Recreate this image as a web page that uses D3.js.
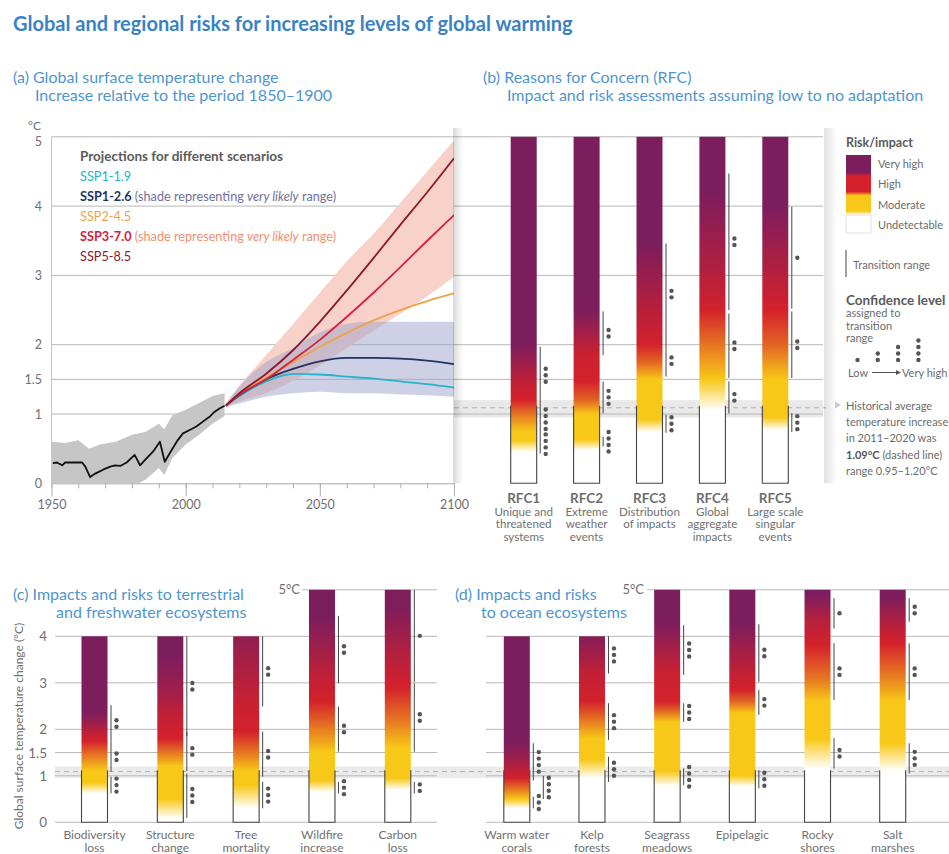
<!DOCTYPE html>
<html><head><meta charset="utf-8">
<script src="https://cdn.jsdelivr.net/npm/d3@7"></script>
<style>
body{margin:0;background:#fff;}
svg{display:block;font-family:Lato,"Open Sans",sans-serif;}
</style></head><body>
<svg id="chart" width="949" height="854"></svg>
<script>
// ---------------- DATA ----------------
const histYears = [1950.5,1952,1954,1955,1961.4,1962.6,1964.4,1966.3,1969.4,1971.9,1973.7,1975.6,1978,1981,1983,1985.4,1987.9,1990.4,1992.2,1994,1997,1999,2001.5,2004,2006.4,2008.9,2010.7,2012.6,2014.5];
const histMean  = [0.29,0.30,0.26,0.30,0.30,0.24,0.09,0.14,0.20,0.24,0.26,0.25,0.30,0.41,0.26,0.36,0.46,0.60,0.31,0.43,0.62,0.72,0.77,0.82,0.89,0.96,1.03,1.08,1.12];
const bandYears = [1950,1955,1960,1964,1968,1974,1980,1985,1990,1992,1995,2000,2005,2010,2014.5];
const bandHi    = [0.60,0.58,0.62,0.50,0.56,0.60,0.70,0.74,0.86,0.78,0.98,1.06,1.16,1.26,1.30];
const bandLo    = [-0.1,-0.1,-0.1,-0.2,-0.15,-0.1,-0.05,0.05,0.22,0.12,0.36,0.56,0.70,0.86,0.97];

const projYears = [2015,2020,2030,2040,2050,2060,2070,2080,2090,2100];
const ssp119 = [1.12,1.26,1.47,1.58,1.57,1.54,1.51,1.47,1.43,1.38];
const ssp126 = [1.12,1.27,1.50,1.65,1.76,1.81,1.81,1.80,1.77,1.72];
const ssp245 = [1.12,1.28,1.53,1.75,1.97,2.17,2.35,2.50,2.63,2.74];
const ssp370 = [1.12,1.28,1.50,1.78,2.07,2.40,2.75,3.12,3.50,3.87];
const ssp585 = [1.12,1.30,1.58,1.92,2.33,2.78,3.25,3.73,4.20,4.69];
const ssp126Lo = [1.10,1.15,1.25,1.30,1.32,1.30,1.30,1.28,1.27,1.25];
const ssp126Hi = [1.15,1.40,1.75,1.95,2.18,2.30,2.33,2.33,2.33,2.33];
const ssp370Lo = [1.10,1.18,1.30,1.48,1.70,1.95,2.20,2.45,2.70,2.98];
const ssp370Hi = [1.15,1.40,1.85,2.30,2.75,3.20,3.60,4.05,4.50,4.95];

const scenarioNames = ["SSP1-1.9","SSP1-2.6","SSP2-4.5","SSP3-7.0","SSP5-8.5"];
const scenarioColors = ["#27b3cb","#1f3462","#eca449","#d4223d","#8a1b2d"];

const yearLabels = [1950,2000,2050,2100];
const yearTicks = [1950,1960,1970,1980,1990,2000,2010,2020,2030,2040,2050,2060,2070,2080,2090,2100];
const tempTicksA = [0,1,1.5,2,3,4,5];
const tempTicksC = [0,1,1.5,2,3,4];
const histRange = [0.95,1.09,1.20];

const riskLevels = ["Very high","High","Moderate","Undetectable"];
const riskColors = ["#ffffff","#f8c818","#d4212b","#7c1d5e"];

// Reasons for concern: stops = [temperature, risk level 0..3]; trans = [lo, hi, confidence dots, column]
const rfcNames = ["RFC1","RFC2","RFC3","RFC4","RFC5"];
const rfcDesc = [["Unique and","threatened","systems"],["Extreme","weather","events"],["Distribution","of impacts"],["Global","aggregate","impacts"],["Large scale","singular","events"]];
const rfcTop = [5,5,5,5,5];
const rfcStops = [
  [[0.45,0],[0.62,1],[0.75,1],[1.0,1.5],[1.2,2],[1.45,2.2],[2.0,3]],
  [[0.48,0],[0.63,1],[1.0,1],[1.2,1.6],[1.47,2],[1.85,2.1],[2.5,3]],
  [[0.74,0],[0.92,1],[1.5,1],[1.75,1.6],[2.0,2],[2.6,2.4],[3.45,3]],
  [[1.05,0],[1.5,1],[2.0,1.5],[2.5,2],[3.0,2.35],[4.2,3]],
  [[0.77,0],[0.95,1],[1.5,1],[2.0,1.6],[2.5,2],[4.0,3]]
];
const rfcTrans = [
  [[0.43,0.70,4],[0.70,1.15,4],[1.15,1.97,3]],
  [[0.53,0.67,4],[1.01,1.47,3],[1.85,2.48,2]],
  [[0.73,0.99,3],[1.54,2.0,2],[2.0,3.46,2]],
  [[1.01,1.47,2],[1.52,2.45,2],[2.5,4.47,2]],
  [[0.74,1.01,3],[1.52,2.48,2],[2.52,3.99,1]]
];

const terrNames = [["Biodiversity","loss"],["Structure","change"],["Tree","mortality"],["Wildfire","increase"],["Carbon","loss"]];
const terrTop = [4,4,4,5,5];
const terrStops = [
  [[0.62,0],[0.85,1],[1.1,1],[1.45,1.5],[1.75,2],[1.95,2.3],[2.35,3]],
  [[0.08,0],[0.5,1],[1.2,1],[1.5,1.5],[1.8,2],[2.2,2.15],[3.0,2.7],[3.6,3]],
  [[0.3,0],[0.8,1],[1.1,1],[1.5,1.5],[1.95,2],[2.6,2.15],[4.0,2.75]],
  [[0.65,0],[0.9,1],[1.5,1],[2.05,1.5],[2.6,2],[3.1,2.2],[4.4,3]],
  [[0.7,0],[0.95,1],[1.6,1],[2.2,1.5],[2.9,2],[3.6,2.35],[4.6,2.95]]
];
const terrTrans = [
  [[0.62,0.98,3],[1.09,1.73,2],[1.73,2.52,2]],
  [[0.1,1.05,3],[1.1,1.95,2],[1.85,4.0,2]],
  [[0.3,0.87,3],[0.98,1.95,2],[2.49,4.0,2]],
  [[0.62,0.87,3],[1.52,2.49,2],[2.99,4.44,2]],
  [[0.62,0.87,2],[1.52,2.99,2],[3.02,5.0,1]]
];

const oceanNames = [["Warm water","corals"],["Kelp","forests"],["Seagrass","meadows"],["Epipelagic"],["Rocky","shores"],["Salt","marshes"]];
const oceanTop = [4,4,5,5,5,5];
const oceanStops = [
  [[0.3,0],[0.5,1],[0.72,1.5],[0.95,2],[1.2,2.4],[1.7,3]],
  [[0.95,0],[1.35,1],[1.8,1],[2.2,1.5],[2.6,2],[3.2,2.2],[4.0,2.9]],
  [[0.78,0],[1.1,1],[2.15,1],[2.4,1.6],[2.6,2],[3.2,2.1],[4.3,3]],
  [[0.77,0],[1.0,1],[2.35,1],[2.6,1.6],[2.85,2],[3.2,2.2],[4.3,3]],
  [[1.15,0],[1.8,1],[2.6,1],[3.1,1.5],[3.8,2],[4.3,2.3],[4.9,3]],
  [[1.1,0],[1.7,1],[2.6,1],[3.2,1.5],[3.85,2],[4.2,2.3],[4.85,3]]
];
const oceanTrans = [
  [[0.3,0.55,3,0],[0.5,1.0,4,1],[0.9,1.7,4,0]],
  [[0.87,1.41,3],[1.77,2.56,3],[3.2,4.0,3]],
  [[0.8,1.16,4],[2.16,2.56,3],[3.17,4.24,3]],
  [[0.73,1.12,3],[2.31,2.85,2],[3.02,4.26,2]],
  [[1.16,1.81,2],[2.63,3.85,2],[4.17,4.82,1]],
  [[1.05,1.7,3],[2.63,3.85,2],[4.31,4.82,2]]
];
const confidenceLevels = [1,2,3,4];

// ---------------- DRAW ----------------
const svg = d3.select("#chart");
const defs = svg.append("defs");
const riskColor = d3.scaleLinear().domain([0,1,2,3]).range(riskColors);
const BLUE = "#3a82c4", LBLUE = "#4f95cf", GRAY = "#6b6b6b";

function txt(p, x, y, s, o = {}) {
  const t = p.append("text").attr("x", x).attr("y", y).text(s)
    .attr("font-size", o.size || 12).attr("fill", o.fill || GRAY)
    .attr("font-weight", o.weight || 400).attr("text-anchor", o.anchor || "start");
  if (o.style) t.attr("font-style", o.style);
  return t;
}

// Titles
txt(svg, 13, 31, "Global and regional risks for increasing levels of global warming", {size:20, weight:700, fill:BLUE});
txt(svg, 13, 83, "(a) Global surface temperature change", {size:16, fill:LBLUE});
txt(svg, 35, 101, "Increase relative to the period 1850–1900", {size:16, fill:LBLUE});
txt(svg, 483, 83, "(b) Reasons for Concern (RFC)", {size:16, fill:LBLUE});
txt(svg, 507, 101, "Impact and risk assessments assuming low to no adaptation", {size:16, fill:LBLUE});
txt(svg, 13, 600, "(c) Impacts and risks to terrestrial", {size:16, fill:LBLUE});
txt(svg, 56, 618, "and freshwater ecosystems", {size:16, fill:LBLUE});
txt(svg, 455, 600, "(d) Impacts and risks", {size:16, fill:LBLUE});
txt(svg, 481, 618, "to ocean ecosystems", {size:16, fill:LBLUE});

// ---- Panel A & B shared scales
const xA = d3.scaleLinear().domain([1950,2100]).range([51.5,454]);
const yA = d3.scaleLinear().domain([0,5]).range([483.3,136.8]);
const xBend = 823;

// historical band across panel b
svg.append("rect").attr("x", xA(2100)).attr("width", xBend - xA(2100))
  .attr("y", yA(histRange[2])).attr("height", yA(histRange[0]) - yA(histRange[2])).attr("fill", "#e9e9e9");
svg.append("line").attr("x1", xA(2100)).attr("x2", xBend+3).attr("y1", yA(histRange[1])).attr("y2", yA(histRange[1]))
  .attr("stroke", "#b0b0b0").attr("stroke-dasharray", "5,4");

// gridlines
svg.append("g").selectAll("line").data(tempTicksA.filter(d => d > 0)).join("line")
  .attr("x1", xA(1950)).attr("x2", xBend).attr("y1", d => yA(d)).attr("y2", d => yA(d))
  .attr("stroke", "#b8b8b8").attr("stroke-width", 1);
svg.append("line").attr("x1", xA(1950)).attr("x2", xA(1950)).attr("y1", yA(0)).attr("y2", yA(5)).attr("stroke", "#c4c4c4");

// y tick labels panel a
svg.append("g").selectAll("text").data(tempTicksA).join("text")
  .attr("x", 42).attr("y", d => yA(d) + (d === 5 ? 9.5 : 4.5)).attr("text-anchor", "end")
  .attr("font-size", 12.5).attr("fill", "#707070").text(d => d === 1.5 ? "1.5" : d);
txt(svg, 28, 130, "°C", {size:12, fill:"#707070"});

// x axis panel a
const axMinor = d3.axisBottom(xA).tickValues(yearTicks).tickSize(5).tickSizeOuter(0).tickFormat("");
const gx1 = svg.append("g").attr("transform", `translate(0,${yA(0)})`).call(axMinor);
gx1.select(".domain").attr("stroke", "#a8a8a8");
gx1.selectAll("line").attr("stroke", "#b0b0b0");
const axMajor = d3.axisBottom(xA).tickValues(yearLabels).tickSize(13).tickSizeOuter(0).tickPadding(4).tickFormat(d3.format("d"));
const gx2 = svg.append("g").attr("transform", `translate(0,${yA(0)})`).call(axMajor);
gx2.select(".domain").remove();
gx2.selectAll("line").attr("stroke", "#b0b0b0");
gx2.selectAll("text").attr("font-size", 12.5).attr("fill", "#707070");
gx2.attr("font-family", null).attr("font-size", null);

// clip for panel a
defs.append("clipPath").attr("id", "clipA").append("rect")
  .attr("x", xA(1950)).attr("y", yA(5)).attr("width", xA(2100) - xA(1950)).attr("height", yA(0) - yA(5));
const gA = svg.append("g").attr("clip-path", "url(#clipA)");

const bandArea = (ys, lo, hi) => d3.area().x((d, i) => xA(ys[i])).y0((d, i) => yA(lo[i])).y1((d, i) => yA(hi[i])).curve(d3.curveMonotoneX)(ys);
gA.append("path").attr("d", d3.area().x((d,i)=>xA(bandYears[i])).y0((d,i)=>yA(bandLo[i])).y1((d,i)=>yA(bandHi[i]))(bandYears)).attr("fill", "#c6c6c6");
gA.append("path").attr("d", bandArea(projYears, ssp370Lo, ssp370Hi)).attr("fill", "#f8d1c8");
gA.append("path").attr("d", bandArea(projYears, ssp126Lo, ssp126Hi)).attr("fill", "#9ea3cc").attr("fill-opacity", 0.5);
gA.append("path").attr("d", d3.line().x((d,i)=>xA(histYears[i])).y(d=>yA(d))(histMean))
  .attr("fill", "none").attr("stroke", "#111").attr("stroke-width", 1.8).attr("stroke-linejoin", "round");
[ssp119, ssp126, ssp245, ssp370, ssp585].forEach((s, k) => {
  gA.append("path").attr("d", d3.line().x((d,i)=>xA(projYears[i])).y(d=>yA(d)).curve(d3.curveMonotoneX)(s))
    .attr("fill", "none").attr("stroke", scenarioColors[k]).attr("stroke-width", 1.8);
});

// legend panel a
const legA = svg.append("g");
txt(legA, 80, 161, "Projections for different scenarios", {size:13.5, weight:700, fill:"#5a5a5a"});
const shadeTxt = ["", "#70719c", "", "#ef8f72", ""];
scenarioNames.forEach((nm, k) => {
  const t = legA.append("text").attr("x", 80).attr("y", 181 + k * 20).attr("font-size", 12.7);
  t.append("tspan").attr("fill", scenarioColors[k]).attr("font-weight", k===1||k===3 ? 700 : 400).text(nm);
  if (shadeTxt[k]) {
    t.append("tspan").attr("fill", shadeTxt[k]).text(" (shade representing ");
    t.append("tspan").attr("fill", shadeTxt[k]).attr("font-style", "italic").text("very likely");
    t.append("tspan").attr("fill", shadeTxt[k]).text(" range)");
  }
});

// panel b card shadows
const sh1 = defs.append("linearGradient").attr("id", "shL");
sh1.append("stop").attr("offset", 0).attr("stop-color", "#000").attr("stop-opacity", 0.15);
sh1.append("stop").attr("offset", 1).attr("stop-color", "#000").attr("stop-opacity", 0);
const sh2 = defs.append("linearGradient").attr("id", "shR");
sh2.append("stop").attr("offset", 0).attr("stop-color", "#000").attr("stop-opacity", 0.12);
sh2.append("stop").attr("offset", 1).attr("stop-color", "#000").attr("stop-opacity", 0);
svg.append("rect").attr("x", xA(2100) - 1).attr("y", 128).attr("width", 10).attr("height", yA(0) - 128).attr("fill", "url(#shL)");
svg.append("rect").attr("x", xBend + 1).attr("y", 128).attr("width", 13).attr("height", yA(0) - 128).attr("fill", "url(#shR)");

// ---- bars
function drawBars(o) {
  const g = svg.append("g");
  o.names.forEach((nm, i) => {
    const cx = o.x(i), w = 26, x0 = cx - w / 2, x1 = cx + w / 2, top = o.tops[i];
    const gid = o.id + i;
    const lg = defs.append("linearGradient").attr("id", gid).attr("gradientUnits", "userSpaceOnUse")
      .attr("x1", 0).attr("x2", 0).attr("y1", o.y(0)).attr("y2", o.y(top));
    const st = [[0, 0], ...o.stops[i], [top, o.stops[i][o.stops[i].length - 1][1]]];
    lg.selectAll("stop").data(st).join("stop").attr("offset", d => Math.min(1, d[0] / top)).attr("stop-color", d => riskColor(d[1]));
    g.append("rect").attr("x", x0).attr("y", o.y(top)).attr("width", w).attr("height", o.y(0) - o.y(top)).attr("fill", `url(#${gid})`);
    g.append("path").attr("d", `M${x0},${o.y(1.12)}V${o.y(0)}H${x1}V${o.y(1.12)}`)
      .attr("fill", "none").attr("stroke", "#444").attr("stroke-width", 1.1);
    o.trans[i].forEach(t => {
      const [lo, hi, n, col = 0] = t;
      const lx = x1 + 3.5 + col * 10;
      g.append("line").attr("x1", lx).attr("x2", lx).attr("y1", o.y(lo)).attr("y2", o.y(hi)).attr("stroke", "#444").attr("stroke-width", 1);
      const cy = o.y((lo + hi) / 2);
      d3.range(n).forEach(k => {
        g.append("circle").attr("cx", lx + 5.5).attr("cy", cy + (k - (n - 1) / 2) * 6.5).attr("r", 2.2).attr("fill", "#555");
      });
    });
    o.label(g, cx, i);
  });
}

const xB = d3.scalePoint().domain(d3.range(rfcNames.length)).range([523.7, 775.3]);
drawBars({names: rfcNames, tops: rfcTop, stops: rfcStops, trans: rfcTrans, x: xB, y: yA, id: "rfc",
  label: (g, cx, i) => {
    txt(g, cx, 503, rfcNames[i], {size:13.5, weight:700, fill:"#6e6e6e", anchor:"middle"});
    rfcDesc[i].forEach((l, k) => txt(g, cx, 515.5 + k * 12.5, l, {size:11.6, fill:"#707070", anchor:"middle"}));
  }});

// ---- legend panel b
const lg = svg.append("g");
const LS = 11;
txt(lg, 846, 147, "Risk/impact", {size:12.5, weight:700, fill:"#5a5a5a"});
const swg = defs.append("linearGradient").attr("id", "swatch").attr("x1", 0).attr("x2", 0).attr("y1", 0).attr("y2", 1);
[[0,3],[0.22,3],[0.27,2],[0.47,2],[0.52,1],[0.72,1],[0.77,0],[1,0]].forEach(s =>
  swg.append("stop").attr("offset", s[0]).attr("stop-color", riskColor(s[1])));
lg.append("rect").attr("x", 846).attr("y", 155).attr("width", 25).attr("height", 78).attr("fill", "url(#swatch)");
lg.append("rect").attr("x", 846).attr("y", 215).attr("width", 25).attr("height", 18).attr("fill", "none").attr("stroke", "#e2e2e2");
riskLevels.forEach((r, k) => txt(lg, 878, 167.5 + k * 20.5, r, {size:LS, fill:"#6b6b6b"}));
lg.append("line").attr("x1", 846).attr("x2", 846).attr("y1", 250).attr("y2", 277).attr("stroke", "#444");
txt(lg, 853, 269, "Transition range", {size:LS, fill:"#6b6b6b"});
txt(lg, 846, 305, "Confidence level", {size:13.5, weight:700, fill:"#5a5a5a"});
txt(lg, 846, 317, "assigned to", {size:LS, fill:"#6b6b6b"});
txt(lg, 846, 329.5, "transition", {size:LS, fill:"#6b6b6b"});
txt(lg, 846, 342, "range", {size:LS, fill:"#6b6b6b"});
confidenceLevels.forEach((n, k) => {
  d3.range(n).forEach(j => lg.append("circle").attr("cx", 857.5 + k * 20.3).attr("cy", 360 - j * 6.5).attr("r", 2.2).attr("fill", "#555"));
});
txt(lg, 848, 376.5, "Low", {size:LS, fill:"#6b6b6b"});
lg.append("line").attr("x1", 872).attr("x2", 897).attr("y1", 372.5).attr("y2", 372.5).attr("stroke", "#555");
lg.append("path").attr("d", "M901,372.5l-5,-2.5v5z").attr("fill", "#555");
txt(lg, 902, 376.5, "Very high", {size:LS, fill:"#6b6b6b"});
lg.append("path").attr("d", "M835,401.5l6,3.5l-6,3.5z").attr("fill", "#c9c9c9");
const histLines = ["Historical average", "temperature increase", "in 2011–2020 was", null, "range 0.95–1.20°C"];
histLines.forEach((l, k) => { if (l) txt(lg, 846, 409.5 + k * 16.4, l, {size:LS, fill:"#6b6b6b"}); });
const hl = lg.append("text").attr("x", 846).attr("y", 409.5 + 3 * 16.4).attr("font-size", LS).attr("fill", "#6b6b6b");
hl.append("tspan").attr("font-weight", 700).attr("fill", "#555").text("1.09°C");
hl.append("tspan").text(" (dashed line)");

// ---- Panels C and D
const yC = d3.scaleLinear().domain([0,5]).range([822.3, 589.8]);
const cX = [55, 437], dX = [486, 949];
svg.append("rect").attr("x", cX[0]).attr("width", dX[1] - cX[0]).attr("y", yC(histRange[2])).attr("height", yC(histRange[0]) - yC(histRange[2])).attr("fill", "#ebebeb");
svg.append("line").attr("x1", cX[0]).attr("x2", dX[1]).attr("y1", yC(histRange[1])).attr("y2", yC(histRange[1])).attr("stroke", "#b0b0b0").attr("stroke-dasharray", "5,4");
[cX, dX].forEach(r => {
  svg.append("g").selectAll("line").data(tempTicksC).join("line")
    .attr("x1", r[0]).attr("x2", r[1]).attr("y1", d => yC(d)).attr("y2", d => yC(d)).attr("stroke", "#b8b8b8");
});
svg.append("line").attr("x1", 302).attr("x2", cX[1]).attr("y1", yC(5)).attr("y2", yC(5)).attr("stroke", "#b8b8b8");
svg.append("line").attr("x1", 647).attr("x2", dX[1]).attr("y1", yC(5)).attr("y2", yC(5)).attr("stroke", "#b8b8b8");
txt(svg, 300, yC(5) + 4.5, "5°C", {size:13, fill:"#707070", anchor:"end"});
txt(svg, 644, yC(5) + 4.5, "5°C", {size:13, fill:"#707070", anchor:"end"});
svg.append("g").selectAll("text").data(tempTicksC).join("text")
  .attr("x", 47).attr("y", d => yC(d) + 5).attr("text-anchor", "end").attr("font-size", 13.5).attr("fill", "#707070").text(d => d);
svg.append("text").attr("transform", "translate(23,726) rotate(-90)").attr("text-anchor", "middle")
  .attr("font-size", 12).attr("fill", "#707070").text("Global surface temperature change (°C)");

const labelCD = names => (g, cx, i) => names[i].forEach((l, k) => txt(g, cx, 839 + k * 13, l, {size:12, fill:"#707070", anchor:"middle"}));
const xC = d3.scalePoint().domain(d3.range(terrNames.length)).range([94.5, 397.8]);
drawBars({names: terrNames, tops: terrTop, stops: terrStops, trans: terrTrans, x: xC, y: yC, id: "terr", label: labelCD(terrNames)});
const xD = d3.scalePoint().domain(d3.range(oceanNames.length)).range([516.8, 892.7]);
drawBars({names: oceanNames, tops: oceanTop, stops: oceanStops, trans: oceanTrans, x: xD, y: yC, id: "ocean", label: labelCD(oceanNames)});
</script>
</body></html>
